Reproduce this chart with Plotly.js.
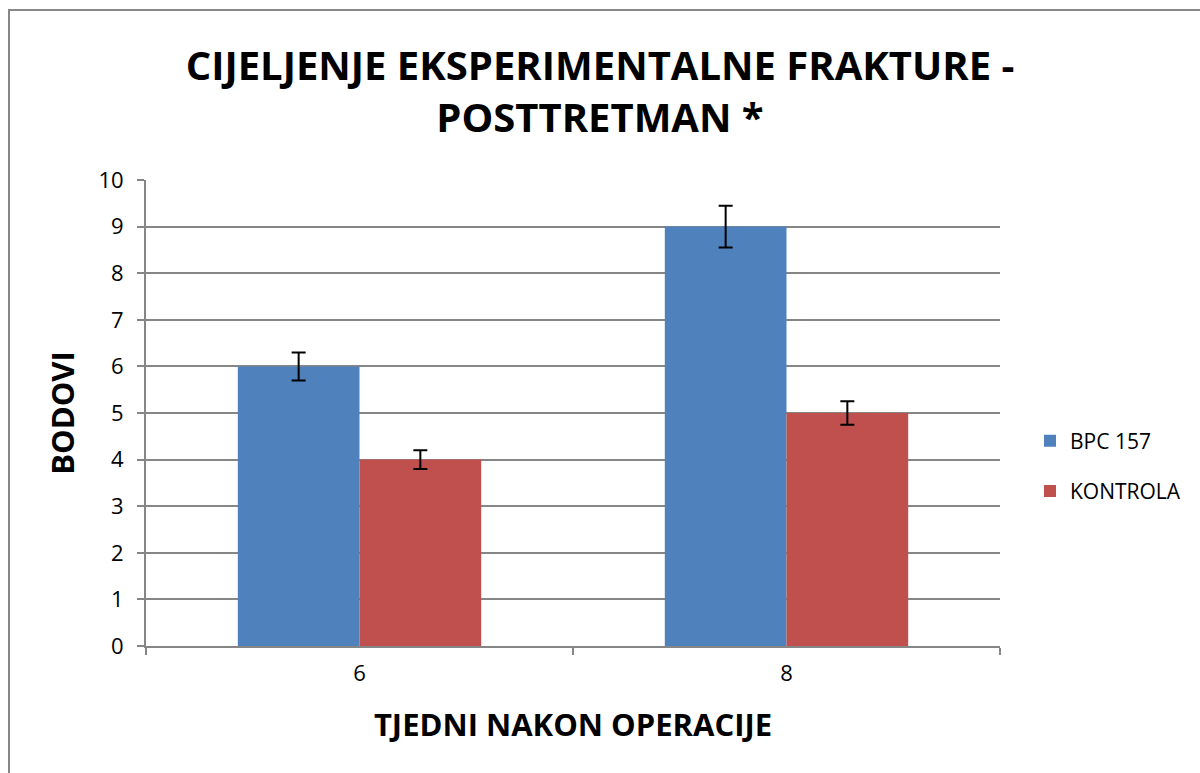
<!DOCTYPE html>
<html>
<head>
<meta charset="utf-8">
<script src="https://cdn.plot.ly/plotly-3.0.1.min.js"></script>
<style>html,body{margin:0;padding:0;background:#fff;}#chart{width:1200px;height:773px;}</style>
</head>
<body>
<div id="chart"></div>
<script>
const categories = ["6", "8"];
const seriesNames = ["BPC 157", "KONTROLA"];
const bpcValues = [6, 9];
const bpcErrors = [0.3, 0.45];
const kontrolaValues = [4, 5];
const kontrolaErrors = [0.2, 0.25];
const yTicks = [0, 1, 2, 3, 4, 5, 6, 7, 8, 9, 10];

const font = "Open Sans, Liberation Sans, sans-serif";
const errStyle = {type: "data", visible: true, color: "#000", thickness: 2, width: 7};

const traces = [
  {type: "bar", name: seriesNames[0], x: categories, y: bpcValues, legendgroup: "a",
   marker: {color: "#4F81BD"},
   error_y: Object.assign({array: bpcErrors}, errStyle)},
  {type: "bar", name: seriesNames[1], x: categories, y: kontrolaValues, legendgroup: "b",
   marker: {color: "#C0504D"},
   error_y: Object.assign({array: kontrolaErrors}, errStyle)}
];

const W = 1200, H = 773, ml = 146, mr = 200, mt = 180, mb = 127;
const pw = W - ml - mr, ph = H - mt - mb;
const px = v => (v - ml) / pw;
const py = v => 1 - (v - mt) / ph;

const layout = {
  width: W, height: H,
  margin: {l: ml, r: mr, t: mt, b: mb},
  paper_bgcolor: "#fff", plot_bgcolor: "#fff",
  font: {family: font, size: 22, color: "#000"},
  title: {text: "<b>CIJELJENJE EKSPERIMENTALNE FRAKTURE -<br>POSTTRETMAN *</b>",
          font: {family: font, size: 40, color: "#000"},
          x: 0.5, xanchor: "center", y: 0.897, yanchor: "middle"},
  barmode: "group", bargap: 0.43, bargroupgap: 0,
  xaxis: {type: "category", showgrid: false, showline: true, linecolor: "#868686", linewidth: 2,
          ticks: "outside", tickson: "boundaries", ticklen: 7, tickcolor: "#868686", tickwidth: 2,
          ticklabelstandoff: 7,
          tickfont: {family: font, size: 22, color: "#000"},
          title: {text: "<b>TJEDNI NAKON OPERACIJE</b>", font: {family: font, size: 31, color: "#000"}, standoff: 28}},
  yaxis: {range: [0, 10], tickvals: yTicks, showgrid: true, gridcolor: "#868686", gridwidth: 2,
          showline: true, linecolor: "#868686", linewidth: 2, zeroline: false,
          ticks: "outside", ticklen: 7, tickcolor: "#868686", tickwidth: 2,
          ticklabelstandoff: 9,
          tickfont: {family: font, size: 22, color: "#000"},
          title: {text: "<b>BODOVI</b>", font: {family: font, size: 31, color: "#000"}, standoff: 15}},
  legend: {x: px(1030), y: py(466), xanchor: "left", yanchor: "middle",
           font: {family: font, size: 21, color: "#000"}, tracegroupgap: 20, itemwidth: 30,
           bgcolor: "rgba(0,0,0,0)"},
  showlegend: true,
  shapes: [{type: "rect", xref: "paper", yref: "paper",
            x0: px(9), x1: px(1250), y0: py(10), y1: py(900),
            line: {color: "#868686", width: 2}, fillcolor: "rgba(0,0,0,0)", layer: "below"}]
};

Plotly.newPlot("chart", traces, layout, {displayModeBar: false, staticPlot: true});
</script>
</body>
</html>
